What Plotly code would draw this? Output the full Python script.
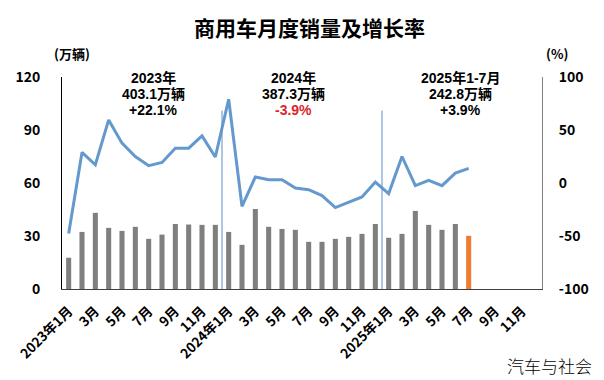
import plotly.graph_objects as go

months = [f"{y}-{m:02d}" for y in (2023, 2024, 2025) for m in range(1, 13)]
tick_labels = ["2023年1月", "3月", "5月", "7月", "9月", "11月",
               "2024年1月", "3月", "5月", "7月", "9月", "11月",
               "2025年1月", "3月", "5月", "7月", "9月", "11月"]
sales = [17.7, 32.3, 43.1, 34.6, 32.9, 35.2, 28.4, 30.8, 36.8, 36.5, 36.3, 36.3,
         32.3, 25.0, 45.3, 35.2, 34.0, 33.5, 26.7, 26.7, 28.4, 29.5, 31.2, 36.8,
         29.0, 31.2, 44.2, 36.3, 33.5, 36.8, 30.1]
growth = [-47.7, 28.8, 17.2, 59.5, 37.6, 25.0, 16.3, 19.4, 32.9, 32.9, 44.5, 24.5,
          79.0, -22.0, 5.6, 3.1, 3.1, -4.7, -6.3, -11.9, -23.2, -18.2, -13.2, 0.9,
          -10.0, 25.0, -2.5, 2.5, -2.5, 9.4, 13.8]

FONT = "Noto Sans CJK SC"
AFONT = "Liberation Sans, Noto Sans CJK SC"
xs = list(range(len(sales)))
bar_colors = ["#7f7f7f"] * (len(sales) - 1) + ["#ed7d31"]

L, R, T, B = 62, 62, 77, 91
W, H = 604, 380
PW, PH = W - L - R, H - T - B

fig = go.Figure()
fig.add_trace(go.Bar(x=xs, y=sales, marker=dict(color=bar_colors, line=dict(width=0)),
                     width=0.38, yaxis="y", showlegend=False))
fig.add_trace(go.Scatter(x=xs, y=growth, mode="lines", line=dict(color="#6499cd", width=3),
                         yaxis="y2", showlegend=False))

for bx in (11.5, 23.5):
    fig.add_shape(type="line", xref="x", yref="y", x0=bx, x1=bx, y0=0, y1=101,
                  line=dict(color="#5b8fc9", width=1))

fig.update_layout(
    width=W, height=H,
    margin=dict(l=L, r=R, t=T, b=B, autoexpand=False),
    paper_bgcolor="white", plot_bgcolor="white",
    font=dict(family=FONT, size=13, color="black"),
    xaxis=dict(range=[-0.5, 35.5], tickmode="array", tickvals=list(range(0, 36, 2)),
               ticktext=[f"<b>{t}</b>" for t in tick_labels], tickangle=-45,
               showgrid=False, zeroline=False, showline=True, linecolor="#404040",
               linewidth=1, ticks="", ticklabelstandoff=8, automargin=False,
               tickfont=dict(size=13.5, family=FONT)),
    yaxis=dict(range=[0, 120], tickvals=[0, 30, 60, 90, 120],
               ticktext=[f"<b>{v}</b>" for v in [0, 30, 60, 90, 120]],
               showgrid=False, zeroline=False, showline=True, linecolor="black",
               linewidth=1, ticks="", ticklabelstandoff=18, automargin=False,
               tickfont=dict(size=14, family=FONT)),
    yaxis2=dict(range=[-100, 100], tickvals=[-100, -50, 0, 50, 100],
                ticktext=[f"<b>{v}</b>" for v in [-100, -50, 0, 50, 100]],
                overlaying="y", side="right", showgrid=False, zeroline=False,
                showline=True, linecolor="#808080", linewidth=1, ticks="",
                ticklabelstandoff=13, automargin=False, tickfont=dict(size=14, family=FONT)),
)


def px(x, y, text, size=13, color="black", family=FONT, weight=None):
    f = dict(size=size, color=color, family=family)
    if weight:
        f["weight"] = weight
    return dict(x=(x - L) / PW, y=(H - B - y) / PH, xref="paper", yref="paper",
                text=text, showarrow=False, xanchor="center", yanchor="middle", font=f)


AS = 14
ann = [
    px(309, 27, "<b>商用车月度销量及增长率</b>", 21),
    px(72, 53, "<b>(万辆)</b>", 13),
    px(557, 53, "<b>(%)</b>", 13),
    px(153, 78, "<b>2023年</b>", AS, family=AFONT),
    px(153, 94, "<b>403.1万辆</b>", AS, family=AFONT),
    px(153, 110, "<b>+22.1%</b>", AS, family=AFONT),
    px(293, 78, "<b>2024年</b>", AS, family=AFONT),
    px(293, 94, "<b>387.3万辆</b>", AS, family=AFONT),
    px(293, 110, "<b>-3.9%</b>", AS, "#d9262c", family=AFONT),
    px(460, 78, "<b>2025年1-7月</b>", AS, family=AFONT),
    px(460, 94, "<b>242.8万辆</b>", AS, family=AFONT),
    px(460, 110, "<b>+3.9%</b>", AS, family=AFONT),
    px(549, 365, "汽车与社会", 17, weight=300),
]
fig.update_layout(annotations=ann)

fig.write_html("out.html", config={"displayModeBar": False},
               post_script="document.body.style.margin='0';document.body.style.overflow='hidden';")
